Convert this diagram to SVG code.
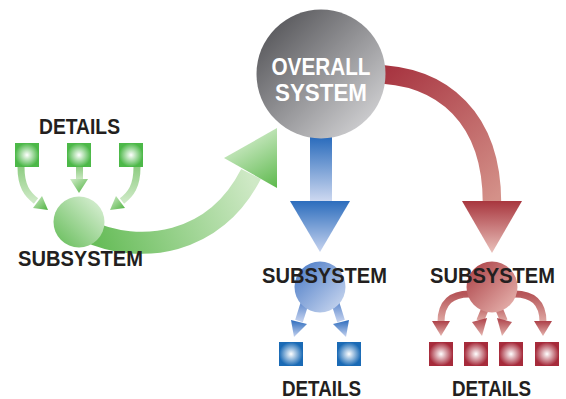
<svg xmlns="http://www.w3.org/2000/svg" width="566" height="399" viewBox="0 0 566 399">
<defs>
<style>
.lbl{font-family:"Liberation Sans",Arial,sans-serif;font-weight:bold;font-size:22px;fill:#231f20;text-anchor:middle}
.wlbl{font-family:"Liberation Sans",Arial,sans-serif;font-weight:bold;font-size:24px;fill:#ffffff;text-anchor:middle}
</style>
<radialGradient id="sqG" cx="0.5" cy="0.5" r="0.55"><stop offset="0" stop-color="#ffffff"/><stop offset="0.9" stop-color="#4cb848"/></radialGradient>
<radialGradient id="sqB" cx="0.5" cy="0.5" r="0.55"><stop offset="0" stop-color="#ffffff"/><stop offset="0.9" stop-color="#1a6ab5"/></radialGradient>
<radialGradient id="sqR" cx="0.5" cy="0.5" r="0.55"><stop offset="0" stop-color="#ffffff"/><stop offset="0.9" stop-color="#a62b3b"/></radialGradient>
<linearGradient id="cOverall" x1="0" y1="0" x2="1" y2="1"><stop offset="0" stop-color="#48484c"/><stop offset="1" stop-color="#e0e0e2"/></linearGradient>
<linearGradient id="cGreen" x1="0" y1="1" x2="1" y2="0"><stop offset="0" stop-color="#62bb55"/><stop offset="1" stop-color="#e2f3de"/></linearGradient>
<linearGradient id="cBlue" x1="0" y1="0" x2="1" y2="1"><stop offset="0" stop-color="#4476c4"/><stop offset="1" stop-color="#d2ddf2"/></linearGradient>
<linearGradient id="cRed" x1="0" y1="0" x2="1" y2="1"><stop offset="0" stop-color="#a83a40"/><stop offset="1" stop-color="#ebbcb6"/></linearGradient>
<linearGradient id="gBody" gradientUnits="userSpaceOnUse" x1="98" y1="240" x2="250" y2="175"><stop offset="0" stop-color="#68bd5a"/><stop offset="1" stop-color="#cfe9c6"/></linearGradient>
<linearGradient id="gHead" gradientUnits="userSpaceOnUse" x1="245" y1="130" x2="280" y2="190"><stop offset="0" stop-color="#d6eecf"/><stop offset="1" stop-color="#57b646"/></linearGradient>
<linearGradient id="rBody" gradientUnits="userSpaceOnUse" x1="380" y1="74" x2="492" y2="202"><stop offset="0" stop-color="#a73440"/><stop offset="1" stop-color="#d49189"/></linearGradient>
<linearGradient id="rHead" x1="0" y1="0" x2="0" y2="1"><stop offset="0" stop-color="#a8363e"/><stop offset="1" stop-color="#eac1bb"/></linearGradient>
<linearGradient id="bBody" gradientUnits="userSpaceOnUse" x1="0" y1="138" x2="0" y2="201"><stop offset="0" stop-color="#2c6dbd"/><stop offset="1" stop-color="#cdd8f0"/></linearGradient>
<linearGradient id="bHead" x1="0" y1="0" x2="0" y2="1"><stop offset="0" stop-color="#2c6dbd"/><stop offset="1" stop-color="#c6d3ef"/></linearGradient>
<linearGradient id="gSmallStem" x1="0" y1="0" x2="0" y2="1"><stop offset="0" stop-color="#8fcd83"/><stop offset="1" stop-color="#cde9c5"/></linearGradient>
<linearGradient id="gSmallHead" x1="0" y1="0" x2="1" y2="1"><stop offset="0" stop-color="#d2ecca"/><stop offset="1" stop-color="#4eb240"/></linearGradient>
<linearGradient id="bSmallStem" x1="0" y1="0" x2="0" y2="1"><stop offset="0" stop-color="#5d88cc"/><stop offset="1" stop-color="#c3d1ee"/></linearGradient>
<linearGradient id="bSmallHead" x1="0" y1="0" x2="0" y2="1"><stop offset="0" stop-color="#2d6cbd"/><stop offset="1" stop-color="#c5d2ef"/></linearGradient>
<linearGradient id="rSmallStem" x1="0" y1="0" x2="0" y2="1"><stop offset="0" stop-color="#b65558"/><stop offset="1" stop-color="#dfa9a4"/></linearGradient>
<linearGradient id="rSmallHead" x1="0" y1="0" x2="0" y2="1"><stop offset="0" stop-color="#ad4048"/><stop offset="1" stop-color="#e4b4ae"/></linearGradient>
</defs>
<rect width="566" height="399" fill="#ffffff"/>

<g id="connectors">
  <path d="M 85 230 C 140 256, 215 245, 251 174" fill="none" stroke="url(#gBody)" stroke-width="22"/>
  <polygon points="277,128 224,158 277,188" fill="url(#gHead)"/>
  <rect x="310" y="120" width="22" height="82" fill="url(#bBody)"/>
  <polygon points="290,201 350,201 320,252" fill="url(#bHead)"/>
  <path d="M 370 74 C 445 74, 492 120, 492 203" fill="none" stroke="url(#rBody)" stroke-width="18.5"/>
  <polygon points="462,201 522,201 492,253" fill="url(#rHead)"/>
  <path d="M 21 167 C 21 186, 27 194, 36 201" fill="none" stroke="url(#gSmallStem)" stroke-width="7"/>
  <polygon points="33,208 42,196 48,210" fill="url(#gSmallHead)"/>
  <rect x="76" y="167" width="7" height="13" fill="url(#gSmallStem)"/>
  <polygon points="70,179 88,179 79,193" fill="url(#gSmallHead)"/>
  <path d="M 137 167 C 137 186, 131 194, 122 201" fill="none" stroke="url(#gSmallStem)" stroke-width="7"/>
  <polygon points="125,208 116,196 110,210" fill="url(#gSmallHead)"/>
  <path d="M 305 302 L 299 321" fill="none" stroke="url(#bSmallStem)" stroke-width="8"/>
  <polygon points="291,320 307,324 294,337" fill="url(#bSmallHead)"/>
  <path d="M 335 302 L 341 321" fill="none" stroke="url(#bSmallStem)" stroke-width="8"/>
  <polygon points="333,324 349,320 346,337" fill="url(#bSmallHead)"/>
  <path d="M 472 294 C 451 293, 441 303, 441 322" fill="none" stroke="url(#rSmallStem)" stroke-width="7"/>
  <polygon points="432,321 450,321 441,336" fill="url(#rSmallHead)"/>
  <path d="M 487 304 L 480 321" fill="none" stroke="url(#rSmallStem)" stroke-width="7.5"/>
  <polygon points="472,322 487,318 482,336" fill="url(#rSmallHead)"/>
  <path d="M 497 304 L 504 321" fill="none" stroke="url(#rSmallStem)" stroke-width="7.5"/>
  <polygon points="512,322 497,318 502,336" fill="url(#rSmallHead)"/>
  <path d="M 512 294 C 533 293, 543 303, 543 322" fill="none" stroke="url(#rSmallStem)" stroke-width="7"/>
  <polygon points="534,321 552,321 543,336" fill="url(#rSmallHead)"/>
</g>

<g id="overall">
  <circle cx="321" cy="74" r="64.5" fill="url(#cOverall)"/>
  <text class="wlbl" x="321" y="75" textLength="99" lengthAdjust="spacingAndGlyphs">OVERALL</text>
  <text class="wlbl" x="321" y="101" textLength="92" lengthAdjust="spacingAndGlyphs">SYSTEM</text>
</g>

<g id="green-subsystem">
  <circle cx="79" cy="222" r="25.5" fill="url(#cGreen)"/>
  <text class="lbl" x="80.5" y="266" textLength="125" lengthAdjust="spacingAndGlyphs">SUBSYSTEM</text>
</g>
<g id="green-details">
  <text class="lbl" x="79.5" y="134" textLength="81" lengthAdjust="spacingAndGlyphs">DETAILS</text>
  <rect x="15" y="143" width="24" height="24" fill="url(#sqG)"/>
  <rect x="67" y="143" width="24" height="24" fill="url(#sqG)"/>
  <rect x="119" y="143" width="24" height="24" fill="url(#sqG)"/>
</g>

<g id="blue-subsystem">
  <circle cx="320" cy="287" r="25.5" fill="url(#cBlue)"/>
  <text class="lbl" x="324.5" y="283" textLength="125" lengthAdjust="spacingAndGlyphs">SUBSYSTEM</text>
</g>
<g id="blue-details">
  <rect x="279" y="342" width="24" height="24" fill="url(#sqB)"/>
  <rect x="337" y="342" width="24" height="24" fill="url(#sqB)"/>
  <text class="lbl" x="321.5" y="395.5" textLength="79" lengthAdjust="spacingAndGlyphs">DETAILS</text>
</g>

<g id="red-subsystem">
  <circle cx="492" cy="287" r="25.5" fill="url(#cRed)"/>
  <text class="lbl" x="492.5" y="283" textLength="125" lengthAdjust="spacingAndGlyphs">SUBSYSTEM</text>
</g>
<g id="red-details">
  <rect x="429" y="342" width="24" height="24" fill="url(#sqR)"/>
  <rect x="464" y="342" width="24" height="24" fill="url(#sqR)"/>
  <rect x="499" y="342" width="24" height="24" fill="url(#sqR)"/>
  <rect x="535" y="342" width="24" height="24" fill="url(#sqR)"/>
  <text class="lbl" x="491.5" y="395.5" textLength="79" lengthAdjust="spacingAndGlyphs">DETAILS</text>
</g>
</svg>
